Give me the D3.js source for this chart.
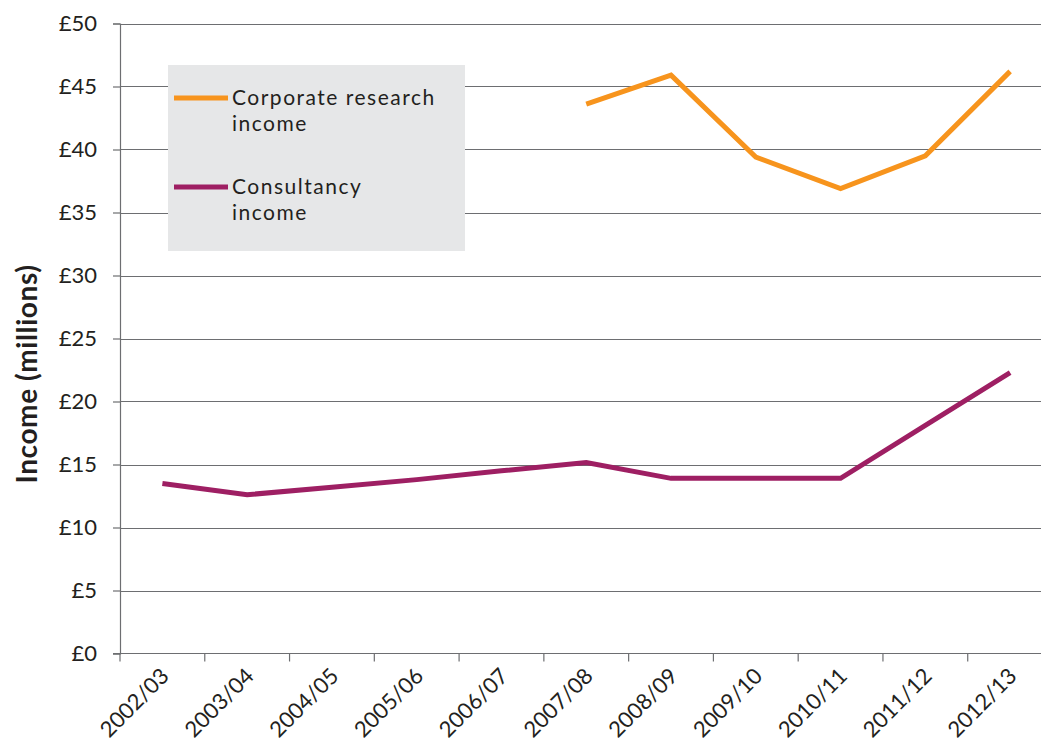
<!DOCTYPE html>
<html>
<head>
<meta charset="utf-8">
<script src="https://cdn.jsdelivr.net/npm/d3@7"></script>
<style>
  html, body { margin: 0; padding: 0; background: #fff; }
  svg { display: block; }
  svg text { font-family: Lato, "Open Sans", "DejaVu Sans", sans-serif; }
</style>
</head>
<body>
<svg id="chart" width="1041" height="750"></svg>
<script>
// Financial years on the x axis
const years = ["2002/03", "2003/04", "2004/05", "2005/06", "2006/07", "2007/08",
               "2008/09", "2009/10", "2010/11", "2011/12", "2012/13"];

// Income in £ millions (null = not reported)
const corporateResearch = [null, null, null, null, null, 43.6, 45.9, 39.4, 36.9, 39.5, 46.2];
const consultancy = [13.5, 12.6, 13.2, 13.8, 14.5, 15.15, 13.9, 13.9, 13.9, 18.1, 22.3];

const yTicks = [0, 5, 10, 15, 20, 25, 30, 35, 40, 45, 50];

const seriesNames = ["Corporate research income", "Consultancy income"];
const seriesColors = ["#f7941d", "#9e1f63"];

const svg = d3.select("#chart");
const margin = { left: 120, top: 23.5, bottom: 653.5 };
const plotRight = 1052.5;

const x = d3.scaleBand().domain(years).range([margin.left, plotRight]).paddingInner(0).paddingOuter(0);
const y = d3.scaleLinear().domain([0, 50]).range([margin.bottom, margin.top]);

const textColor = "#231f20";
const gridColor = "#6d6e71";

// Horizontal gridlines
svg.append("g")
  .selectAll("line")
  .data(yTicks.filter(d => d > 0))
  .join("line")
  .attr("x1", margin.left).attr("x2", 1041)
  .attr("y1", d => Math.round(y(d)) + 0.5).attr("y2", d => Math.round(y(d)) + 0.5)
  .attr("stroke", gridColor).attr("stroke-width", 1.2);

// Y axis
const yAxis = svg.append("g")
  .attr("transform", `translate(${margin.left},0)`)
  .call(d3.axisLeft(y).tickValues(yTicks).tickSize(7).tickPadding(16).tickFormat(d => "£" + d));
yAxis.attr("font-family", null).attr("font-size", null);
yAxis.select(".domain").attr("stroke", gridColor).attr("stroke-width", 1.2);
yAxis.selectAll(".tick line").attr("stroke", gridColor).attr("stroke-width", 1.2);
yAxis.selectAll(".tick text")
  .attr("fill", textColor)
  .style("font-size", "22px");

// X axis: ticks at band boundaries
const xAxisG = svg.append("g");
xAxisG.append("line")
  .attr("x1", margin.left - 7).attr("x2", 1041)
  .attr("y1", y(0)).attr("y2", y(0))
  .attr("stroke", gridColor).attr("stroke-width", 1.2);
xAxisG.selectAll("line.tick")
  .data(years)
  .join("line")
  .attr("class", "tick")
  .attr("x1", d => x(d)).attr("x2", d => x(d))
  .attr("y1", y(0)).attr("y2", y(0) + 8)
  .attr("stroke", gridColor).attr("stroke-width", 1.2);
xAxisG.selectAll("text")
  .data(years)
  .join("text")
  .attr("transform", d => `translate(${x(d) + x.bandwidth() / 2 + 8},${y(0) + 24}) rotate(-45)`)
  .attr("text-anchor", "end")
  .attr("fill", textColor)
  .style("font-size", "22px")
  .text(d => d);

// Y axis title
svg.append("text")
  .attr("transform", "translate(37,374) rotate(-90)")
  .attr("text-anchor", "middle")
  .attr("fill", textColor)
  .style("font-size", "28px")
  .style("font-weight", "bold")
  .style("letter-spacing", "0.6px")
  .text("Income (millions)");

// Legend box
const legend = svg.append("g");
legend.append("rect")
  .attr("x", 168).attr("y", 65).attr("width", 297).attr("height", 186)
  .attr("fill", "#e6e7e8");

const legendRows = [
  { lines: ["Corporate research", "income"], color: seriesColors[0], y: 98 },
  { lines: ["Consultancy", "income"], color: seriesColors[1], y: 187 }
];
legendRows.forEach(r => {
  legend.append("line")
    .attr("x1", 174).attr("x2", 228).attr("y1", r.y).attr("y2", r.y)
    .attr("stroke", r.color).attr("stroke-width", 5);
  r.lines.forEach((s, i) => {
    legend.append("text")
      .attr("x", 232).attr("y", r.y + 7 + i * 25.5)
      .attr("fill", textColor)
      .style("font-size", "21px")
      .style("letter-spacing", "1.5px")
      .text(s);
  });
});

// Series lines
const line = d3.line()
  .defined(d => d.v !== null)
  .x(d => x(d.year) + x.bandwidth() / 2)
  .y(d => y(d.v));

[corporateResearch, consultancy].forEach((vals, i) => {
  svg.append("path")
    .datum(years.map((yr, j) => ({ year: yr, v: vals[j] })))
    .attr("fill", "none")
    .attr("stroke", seriesColors[i])
    .attr("stroke-width", 5)
    .attr("stroke-linejoin", "miter")
    .attr("d", line);
});
</script>
</body>
</html>
